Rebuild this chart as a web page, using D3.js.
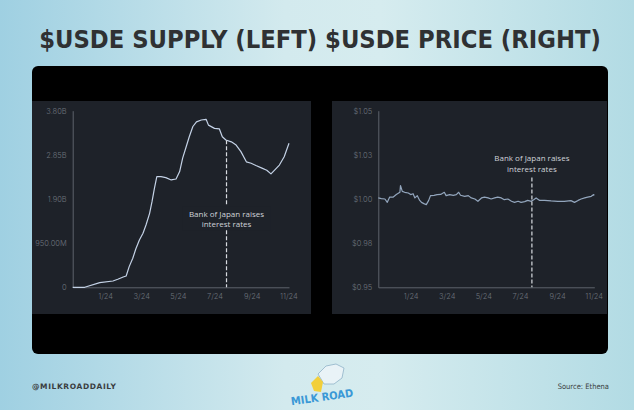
<!DOCTYPE html>
<html><head><meta charset="utf-8">
<script src="https://cdn.jsdelivr.net/npm/d3@7"></script>
<style>html,body{margin:0;padding:0;overflow:hidden;background:#c5e3ea}</style>
</head><body><svg id="c" width="634" height="410"></svg>
<script>
// ---------- DATA ----------
const supplyDates = ["2023-11-08","2023-11-28","2023-12-23","2024-01-14","2024-01-22","2024-01-31","2024-02-05","2024-02-10","2024-02-16","2024-02-21","2024-02-27","2024-03-04","2024-03-09","2024-03-15","2024-03-19","2024-03-23","2024-03-27","2024-04-03","2024-04-11","2024-04-20","2024-04-28","2024-05-04","2024-05-09","2024-05-15","2024-05-20","2024-05-26","2024-06-01","2024-06-09","2024-06-17","2024-06-21","2024-07-01","2024-07-09","2024-07-14","2024-07-20","2024-07-29","2024-08-06","2024-08-14","2024-08-23","2024-08-31","2024-09-08","2024-09-17","2024-09-26","2024-10-03","2024-10-09","2024-10-17","2024-10-25","2024-11-02"];
const supplyValues = [0,0,0.10,0.136,0.172,0.222,0.244,0.445,0.624,0.825,1.018,1.162,1.341,1.592,1.843,2.13,2.38,2.38,2.36,2.31,2.33,2.49,2.78,3.03,3.24,3.46,3.56,3.60,3.615,3.49,3.42,3.41,3.24,3.17,3.13,3.06,2.92,2.70,2.67,2.62,2.57,2.52,2.44,2.52,2.63,2.81,3.10]; // billions

const priceDates = ["2023-11-08","2023-11-13","2023-11-19","2023-11-23","2023-11-27","2023-12-03","2023-12-08","2023-12-14","2023-12-15","2023-12-18","2023-12-22","2023-12-28","2024-01-01","2024-01-05","2024-01-08","2024-01-12","2024-01-16","2024-01-19","2024-01-23","2024-01-27","2024-01-31","2024-02-03","2024-02-09","2024-02-14","2024-02-20","2024-02-26","2024-02-29","2024-03-06","2024-03-12","2024-03-17","2024-03-21","2024-03-24","2024-03-31","2024-04-06","2024-04-11","2024-04-17","2024-04-22","2024-04-28","2024-05-03","2024-05-09","2024-05-14","2024-05-20","2024-05-25","2024-05-31","2024-06-05","2024-06-11","2024-06-17","2024-06-22","2024-06-28","2024-07-03","2024-07-09","2024-07-14","2024-07-20","2024-07-24","2024-07-28","2024-08-03","2024-08-11","2024-08-22","2024-09-02","2024-09-13","2024-09-24","2024-09-30","2024-10-06","2024-10-11","2024-10-17","2024-10-22","2024-10-28","2024-11-01","2024-11-02"];
const priceValues = [1.0006,1.0002,1.0000,0.9981,1.0011,1.0011,1.0025,1.0038,1.0076,1.0043,1.0038,1.0034,1.0025,1.0030,1.0006,1.0019,0.9992,0.9981,0.9974,0.9968,0.9992,1.0019,1.0021,1.0025,1.0026,1.0038,1.0019,1.0025,1.0021,1.0025,1.0038,1.0021,1.0015,1.0019,1.0006,1.0000,0.9987,1.0006,1.0011,1.0006,1.0000,1.0006,1.0011,1.0006,0.9996,1.0000,0.9987,0.9981,0.9987,0.9981,0.9985,0.9992,0.9987,0.9996,1.0006,0.9992,0.9992,0.9989,0.9987,0.9987,0.9991,0.9981,0.9992,1.0000,1.0006,1.0011,1.0015,1.0025,1.0021];

const supplyTicks = [0, 0.95, 1.90, 2.85, 3.80];
const supplyTickLabels = ["0","950.00M","1.90B","2.85B","3.80B"];
const priceTicks = [0.95, 0.975, 1.00, 1.025, 1.05];
const priceTickLabels = ["$0.95","$0.98","$1.00","$1.03","$1.05"];
const xDomain = ["2023-11-08","2024-11-02"];
const eventDate = "2024-07-21";
const eventLabel = ["Bank of Japan raises","interest rates"];
const titleText = "$USDE SUPPLY (LEFT) $USDE PRICE (RIGHT)";
const handle = "@MILKROADDAILY";
const sourceText = "Source: Ethena";
const logoText = "MILK ROAD";

// ---------- DRAW ----------
const parse = d3.timeParse("%Y-%m-%d");
const svg = d3.select("#c");
const defs = svg.append("defs");
const g1 = defs.append("linearGradient").attr("id","bg").attr("x1","0").attr("x2","1").attr("y1","0").attr("y2","0");
g1.append("stop").attr("offset","0").attr("stop-color","#9fd0e2");
g1.append("stop").attr("offset","0.45").attr("stop-color","#d3eaee");
g1.append("stop").attr("offset","0.6").attr("stop-color","#d6ecef");
g1.append("stop").attr("offset","1").attr("stop-color","#b2dbe4");
svg.append("rect").attr("width",634).attr("height",410).attr("fill","url(#bg)");

const title = svg.append("text").attr("x",320).attr("y",48).attr("text-anchor","middle")
  .attr("font-family","DejaVu Sans Condensed, DejaVu Sans").attr("font-weight","bold")
  .attr("font-size",30).attr("fill","#2f3133").text(titleText);
const tw = title.node().getComputedTextLength();
title.attr("font-size", 30 * 562 / tw);

svg.append("rect").attr("x",32).attr("y",66).attr("width",576).attr("height",288).attr("rx",6).attr("fill","#000");

const panels = [
  {px:32, pw:279, x0:72.7, x1:289, dates:supplyDates, values:supplyValues, ticks:supplyTicks, labels:supplyTickLabels, domain:[0,3.8], color:"#c4d2e6", textPos:"mid"},
  {px:332, pw:275, x0:378.3, x1:594.3, dates:priceDates, values:priceValues, ticks:priceTicks, labels:priceTickLabels, domain:[0.95,1.05], color:"#93a6bd", textPos:"top"}
];
const pTop = 101, pBot = 314, yTop = 110.7, yBot = 287.3;
const PANEL_BG = "#1e2229";

panels.forEach(p => {
  svg.append("rect").attr("x",p.px).attr("y",pTop).attr("width",p.pw).attr("height",pBot-pTop).attr("fill",PANEL_BG);
  const x = d3.scaleTime().domain(xDomain.map(parse)).range([p.x0,p.x1]);
  const y = d3.scaleLinear().domain(p.domain).range([yBot,yTop]);
  const g = svg.append("g");

  const ya = g.append("g").attr("transform",`translate(${p.x0},0)`)
    .call(d3.axisLeft(y).tickValues(p.ticks).tickFormat((d,i)=>p.labels[i]).tickSize(0).tickPadding(6));
  const xa = g.append("g").attr("transform",`translate(0,${yBot})`)
    .call(d3.axisBottom(x).ticks(d3.timeMonth.every(2)).tickFormat(d3.timeFormat("%-m/%y")).tickSize(0).tickPadding(6));
  [ya,xa].forEach(a => {
    a.select(".domain").attr("stroke","#5d636c").attr("stroke-width",1);
    a.selectAll("text").attr("fill","#6d737c").attr("font-family","Inter, Lato, sans-serif").attr("font-size",7.5).attr("font-weight",300);
  });

  const data = p.dates.map((d,i)=>({d:parse(d), v:p.values[i]}));
  g.append("path").datum(data).attr("fill","none").attr("stroke",p.color).attr("stroke-width",1.2)
    .attr("stroke-linejoin","round")
    .attr("d", d3.line().x(d=>x(d.d)).y(d=>y(d.v)));

  const ex = x(parse(eventDate));
  const h = yBot - yTop;
  let lineTop, t1, t2;
  if (p.textPos === "mid") {
    const bis = d3.bisector(d=>d.d).left;
    const ed = parse(eventDate);
    const i = bis(data, ed);
    const a = data[i-1], b = data[i];
    const t = (ed - a.d)/(b.d - a.d);
    lineTop = y(a.v + (b.v - a.v)*t);
    t1 = yTop + h*0.585; t2 = t1 + 10.5;
  } else {
    t1 = yTop + h*0.27; t2 = t1 + 11;
    lineTop = t2 + 8;
  }
  g.append("line").attr("x1",ex).attr("x2",ex).attr("y1",lineTop).attr("y2",yBot)
    .attr("stroke","#d8dbe0").attr("stroke-width",1.2).attr("stroke-dasharray","4,2");
  if (p.textPos === "mid") {
    g.append("rect").attr("x",ex-44).attr("y",t1-8).attr("width",88).attr("height",24).attr("fill",PANEL_BG);
  }
  [t1,t2].forEach((ty,i)=>{
    g.append("text").attr("x",ex).attr("y",ty).attr("dy","0.35em").attr("text-anchor","middle")
      .attr("font-family","Open Sans, Lato, sans-serif").attr("font-size",8).attr("fill","#cfd3d9").text(eventLabel[i]);
  });
});

// footer
svg.append("text").attr("x",32).attr("y",389).attr("font-family","DejaVu Sans, sans-serif").attr("font-weight","bold")
  .attr("font-size",7.5).attr("letter-spacing",0.6).attr("fill","#3a3d40").text(handle);
svg.append("text").attr("x",609).attr("y",389).attr("text-anchor","end").attr("font-family","DejaVu Sans Condensed, sans-serif")
  .attr("font-size",7.5).attr("fill","#3a3d40").text(sourceText);

// logo
const lg = svg.append("g");
lg.append("path").attr("d","M318,374 L326,366 L336,364 L344,368 L342,378 L334,384 L324,384 Z").attr("fill","#e9f3f7").attr("stroke","#8fb3c8").attr("stroke-width",0.8);
lg.append("path").attr("d","M311,383 L318,376 L323,382 L321,392 L314,391 Z").attr("fill","#f2cf3b");
lg.append("text").attr("x",322).attr("y",401).attr("text-anchor","middle").attr("font-family","DejaVu Sans Condensed, sans-serif")
  .attr("font-weight","bold").attr("font-size",11).attr("fill","#3a98d6")
  .attr("transform","rotate(-8,322,397)").text(logoText);
</script></body></html>
